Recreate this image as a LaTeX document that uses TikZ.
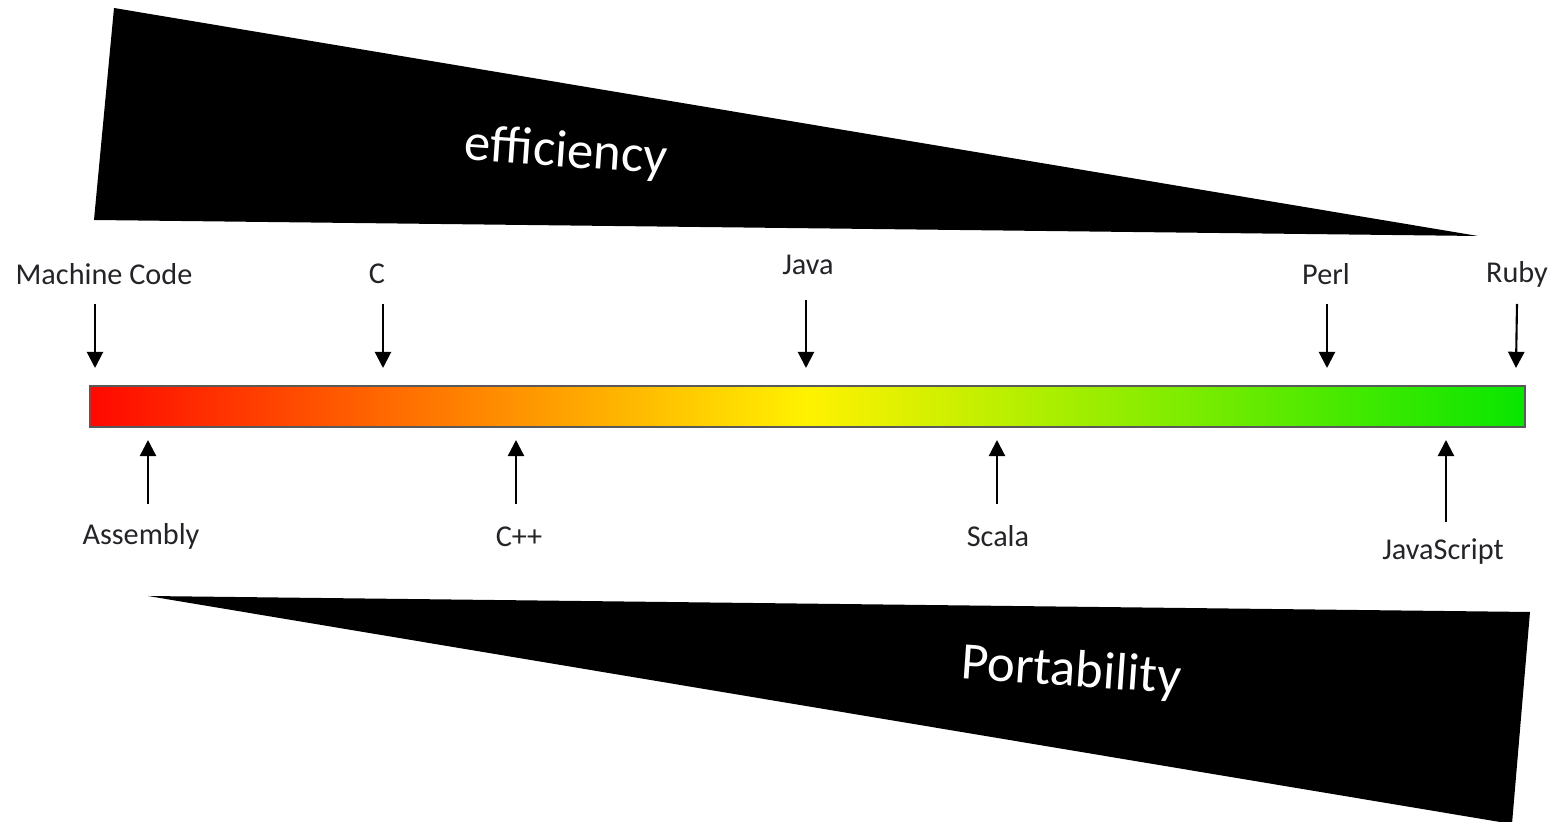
\documentclass[tikz,border=0pt]{standalone}
\usepackage{fontspec}
\setmainfont{Carlito}
\usetikzlibrary{
  arrows.meta % Triangle arrow tips
}
\definecolor{barred}{RGB}{255,8,0}
\definecolor{baryellow}{RGB}{255,242,0}
\definecolor{bargreen}{RGB}{8,230,0}
\definecolor{labelgray}{RGB}{35,35,40}

\begin{document}
\begin{tikzpicture}[x=0.01cm, y=-0.01cm, >={Triangle[length=4.6pt,width=4.6pt]}, line width=0.6pt,
  wedgetext/.style={text=white, font=\fontsize{15}{18}\selectfont, rotate=-4, inner sep=0pt},
  lang/.style={text=labelgray, font=\fontsize{8.6}{10}\selectfont, inner sep=1pt}] % pixel-like units, y grows downward
  \useasboundingbox (0,0) rectangle (1556,822); % keep the frame of the reference

  % ======= upper black wedge (efficiency) =======
  \coordinate (E1) at (114,8); % top left corner
  \coordinate (E2) at (94,220); % bottom left corner
  \coordinate (E3) at (1478,236); % thin right tip
  \fill (E1) -- (E2) -- (E3) -- cycle; % wedge narrowing to the right
  \node[wedgetext] (eff) at (566,153) {efficiency};

  % ======= colour scale =======
  \shade[left color=barred, right color=bargreen, middle color=baryellow] (90,386) rectangle (1525,427); % red -> yellow -> green
  \draw[black!65, line width=0.5pt] (90,386) rectangle (1525,427); % thin frame round the bar

  % ======= languages above the bar =======
  \node[lang] (mc) at (104,274) {Machine Code};
  \coordinate (mcTop) at (95,304); \coordinate (mcTip) at (95,368);
  \draw[->] (mcTop) -- (mcTip);

  \node[lang] (c) at (377,274) {C};
  \coordinate (cTop) at (383,304); \coordinate (cTip) at (383,368);
  \draw[->] (cTop) -- (cTip);

  \node[lang] (java) at (808,265) {Java};
  \coordinate (javaTop) at (806,300); \coordinate (javaTip) at (806,368);
  \draw[->] (javaTop) -- (javaTip);

  \node[lang] (perl) at (1326,274) {Perl};
  \coordinate (perlTop) at (1327,304); \coordinate (perlTip) at (1327,368);
  \draw[->] (perlTop) -- (perlTip);

  \node[lang] (ruby) at (1517,274) {Ruby};
  \coordinate (rubyTop) at (1517,304); \coordinate (rubyTip) at (1516,368);
  \draw[->] (rubyTop) -- (rubyTip);

  % ======= languages below the bar =======
  \node[lang] (asm) at (141,536) {Assembly};
  \coordinate (asmBot) at (148,504); \coordinate (asmTip) at (148,440);
  \draw[->] (asmBot) -- (asmTip);

  \node[lang] (cpp) at (519,537) {C++};
  \coordinate (cppBot) at (516,504); \coordinate (cppTip) at (516,440);
  \draw[->] (cppBot) -- (cppTip);

  \node[lang] (scala) at (998,536) {Scala};
  \coordinate (scalaBot) at (997,504); \coordinate (scalaTip) at (997,440);
  \draw[->] (scalaBot) -- (scalaTip);

  \node[lang] (js) at (1443,552) {JavaScript};
  \coordinate (jsBot) at (1446,522); \coordinate (jsTip) at (1446,440);
  \draw[->] (jsBot) -- (jsTip);

  % ======= lower black wedge (Portability) =======
  \coordinate (P1) at (148,596); % thin left tip
  \coordinate (P2) at (1530,612); % top right corner
  \coordinate (P3) at (1512,824); % bottom right corner
  \fill (P1) -- (P2) -- (P3) -- cycle; % wedge widening to the right
  \node[wedgetext] (port) at (1071,672) {Portability};

\end{tikzpicture}
\end{document}
